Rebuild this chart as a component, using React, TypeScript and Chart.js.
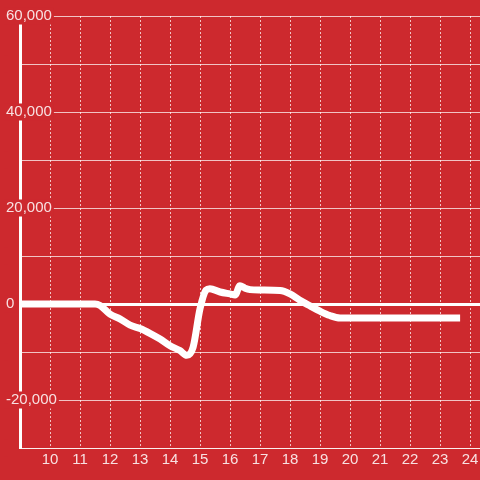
import React, { useEffect, useRef } from 'react';
import { Chart, registerables } from 'chart.js';

Chart.register(...registerables);

// Hour of day (x) and value (y) of the single white line
const hours = [9, 11.5, 11.67, 12, 12.33, 12.67, 13, 13.33, 13.67, 14, 14.33, 14.56, 14.77, 15, 15.2, 15.33, 15.67, 16, 16.17, 16.33, 16.5, 16.67, 17, 17.67, 18, 18.33, 18.67, 19, 19.33, 19.67, 23.67];
const values = [0, 0, -300, -2100, -3100, -4400, -5100, -6100, -7300, -8700, -9700, -10700, -9000, -1000, 2900, 3200, 2500, 2100, 1900, 3800, 3300, 3000, 2900, 2800, 2100, 800, -400, -1500, -2400, -2900, -2900];

const xTickValues = [10, 11, 12, 13, 14, 15, 16, 17, 18, 19, 20, 21, 22, 23, 24];
const yTickValues = [-30000, -20000, -10000, 0, 10000, 20000, 30000, 40000, 50000, 60000];
const yLabelValues = [60000, 40000, 20000, 0, -20000];

const BG = 'rgb(205, 41, 46)';
const TEXT = 'rgba(255, 255, 255, 0.86)';
const GRID = 'rgba(255, 255, 255, 0.72)';
const FONT = { family: "'Liberation Sans', Arial, sans-serif", size: 15, lineHeight: 1 };

export default function App() {
  const ref = useRef<HTMLCanvasElement>(null);

  useEffect(() => {
    const chart = new Chart(ref.current as HTMLCanvasElement, {
      type: 'line',
      data: {
        datasets: [
          {
            data: hours.map((h, i) => ({ x: h, y: values[i] })),
            borderColor: '#ffffff',
            borderWidth: 7,
            pointRadius: 0,
            cubicInterpolationMode: 'monotone',
            borderCapStyle: 'butt',
            borderJoinStyle: 'round',
            fill: false,
          },
        ],
      },
      options: {
        animation: false,
        responsive: false,
        layout: { padding: { left: 5, top: 16, right: 0, bottom: 0 } },
        plugins: { legend: { display: false }, tooltip: { enabled: false } },
        scales: {
          x: {
            type: 'linear',
            min: 9,
            max: 24.333,
            afterBuildTicks: (s: any) => {
              s.ticks = xTickValues.map((v) => ({ value: v }));
            },
            afterFit: (s: any) => {
              s.height = 32;
              s.paddingLeft = 0;
              s.paddingRight = 0;
            },
            grid: { color: GRID, lineWidth: 1, drawTicks: false },
            border: { display: true, color: GRID, width: 1, dash: [2, 2] },
            ticks: {
              color: TEXT,
              font: FONT,
              padding: 4,
              maxRotation: 0,
              autoSkip: false,
              callback: (v: any) => String(v),
            },
          },
          y: {
            type: 'linear',
            min: -30000,
            max: 60000,
            afterBuildTicks: (s: any) => {
              s.ticks = yTickValues.map((v) => ({ value: v }));
            },
            afterFit: (s: any) => {
              s.width = 15;
              s.paddingTop = 0;
              s.paddingBottom = 0;
            },
            grid: {
              color: (ctx: any) => (ctx.tick && ctx.tick.value === 0 ? '#ffffff' : GRID),
              lineWidth: (ctx: any) => (ctx.tick && ctx.tick.value === 0 ? 3 : 1),
              drawTicks: false,
            },
            border: { display: true, color: '#ffffff', width: 3 },
            ticks: {
              color: TEXT,
              font: FONT,
              mirror: true,
              padding: -14,
              crossAlign: 'near',
              autoSkip: false,
              z: 1,
              showLabelBackdrop: true,
              backdropColor: BG,
              backdropPadding: { top: 1, bottom: 1, left: 2, right: 2 },
              callback: (v: any) => (yLabelValues.includes(v) ? Number(v).toLocaleString('en-US') : ''),
            },
          },
        },
      } as any,
    });
    return () => chart.destroy();
  }, []);

  return (
    <div style={{ position: 'fixed', top: 0, left: 0, width: 480, height: 480, background: BG }}>
      <canvas ref={ref} width={480} height={480} style={{ display: 'block' }} />
    </div>
  );
}
